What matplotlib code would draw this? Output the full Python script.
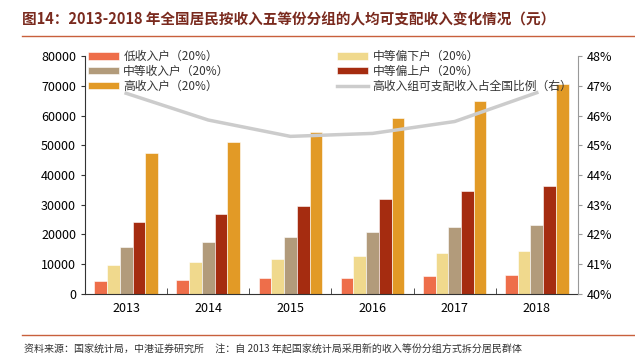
import matplotlib.pyplot as plt
import numpy as np

plt.rcParams['font.family'] = ['Noto Sans CJK SC', 'DejaVu Sans']

years = ['2013', '2014', '2015', '2016', '2017', '2018']
low = [4402, 4747, 5221, 5529, 5958, 6440]
lower_mid = [9654, 10887, 11894, 12899, 13843, 14361]
mid = [15698, 17631, 19320, 20924, 22495, 23189]
upper_mid = [24361, 26937, 29438, 31990, 34547, 36471]
high = [47457, 50968, 54544, 59259, 64934, 70640]
high_share = [46.75, 45.85, 45.3, 45.4, 45.8, 46.77]

series = [low, lower_mid, mid, upper_mid, high]
names = ['低收入户（20%）', '中等偏下户（20%）', '中等收入户（20%）', '中等偏上户（20%）', '高收入户（20%）']
colors = ['#EE6E4A', '#F0D98D', '#B29B7B', '#A52C10', '#E29A26']
line_name = '高收入组可支配收入占全国比例（右）'

fig = plt.figure(figsize=(6.35, 3.62), dpi=100)
ax = fig.add_axes([0.134, 0.188, 0.776, 0.657])
ax2 = ax.twinx()

x = np.arange(len(years))
w = 0.155
handles = []
for i, (vals, c, n) in enumerate(zip(series, colors, names)):
    b = ax.bar(x + (i - 2) * w, vals, w, color=c, edgecolor='white', linewidth=0.4, label=n)
    handles.append(b)

ln, = ax2.plot(x, high_share, color='#CCCCCC', linewidth=2.5, label=line_name)

ax.set_xlim(-0.5, 5.5)
ax.set_ylim(0, 80000)
ax.set_yticks(np.arange(0, 80001, 10000))
ax2.set_ylim(40, 48)
ax2.set_yticks(np.arange(40, 48.1, 1))
ax2.set_yticklabels([f'{int(v)}%' for v in np.arange(40, 48.1, 1)])

ax.set_xticks(x)
ax.set_xticklabels(years)
ax.set_xticks(np.arange(0.5, 5, 1), minor=True)
ax.tick_params(axis='x', which='major', length=0, labelsize=9, pad=6)
ax.tick_params(axis='x', which='minor', direction='in', length=4, color='#333333')
ax.tick_params(axis='y', labelsize=9, length=3, color='#333333')
ax2.tick_params(axis='y', labelsize=9, length=3, color='#999999')

ax.spines['top'].set_visible(False)
ax2.spines['top'].set_visible(False)
ax.spines['right'].set_visible(False)
ax2.spines['left'].set_visible(False)
ax2.spines['bottom'].set_visible(False)
ax.spines['left'].set_color('#333333')
ax.spines['bottom'].set_color('#333333')
ax2.spines['right'].set_color('#999999')

# column-wise fill: low, mid, high | lower-mid, upper-mid, line
order = [handles[0], handles[2], handles[4], handles[1], handles[3], ln]
labels = [h.get_label() for h in order]
leg = ax.legend(order, labels, ncol=2, loc='upper left', bbox_to_anchor=(-0.004, 1.045),
                borderaxespad=0, frameon=False, fontsize=8.5, handlelength=2.6, handleheight=0.6,
                labelspacing=0.15, columnspacing=9.1, handletextpad=0.4)
for t in leg.get_texts():
    t.set_color('#333333')

fig.text(0.035, 0.946, '图14：2013-2018 年全国居民按收入五等份分组的人均可支配收入变化情况（元）',
         fontsize=10.5, fontweight='bold', color='#7A2A1E', va='center')
fig.add_artist(plt.Line2D([0.035, 1.0], [0.9, 0.9], color='#C8603C', linewidth=1))
fig.add_artist(plt.Line2D([0.035, 1.0], [0.075, 0.075], color='#C8603C', linewidth=1))
fig.text(0.038, 0.033, '资料来源：国家统计局，中港证券研究所     注：自 2013 年起国家统计局采用新的收入等份分组方式拆分居民群体',
         fontsize=7.2, color='#333333', va='center')

fig.savefig('out.png', dpi=100)
